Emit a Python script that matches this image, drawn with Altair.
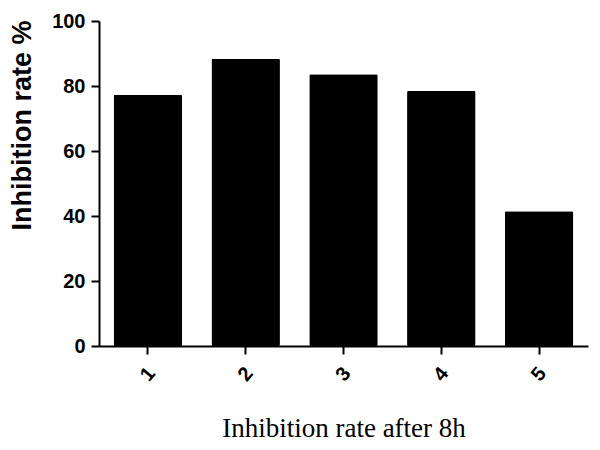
import altair as alt
import pandas as pd

groups = ["1", "2", "3", "4", "5"]
rates = [77.3, 88.4, 83.6, 78.5, 41.5]

df = pd.DataFrame({"group": groups, "rate": rates})

chart = alt.Chart(df).mark_bar(color="black", cornerRadius=1.5).encode(
    x=alt.X(
        "group:N",
        sort=groups,
        scale=alt.Scale(paddingInner=0.3, paddingOuter=0.15),
        axis=alt.Axis(
            title="Inhibition rate after 8h",
            titleFont="Liberation Serif",
            titleFontWeight="normal",
            titleFontSize=27,
            titleColor="black",
            titleBaseline="middle",
            titleY=82,
            labelAngle=-50,
            labelAlign="center",
            labelBaseline="middle",
            labelPadding=20,
            labelFont="Liberation Sans",
            labelFontWeight="bold",
            labelFontSize=20,
            labelColor="black",
            domainColor="black",
            domainWidth=2,
            tickColor="black",
            tickWidth=2,
            tickSize=8,
        ),
    ),
    y=alt.Y(
        "rate:Q",
        scale=alt.Scale(domain=[0, 100], nice=False),
        axis=alt.Axis(
            title="Inhibition rate %",
            values=[0, 20, 40, 60, 80, 100],
            grid=False,
            titleFont="Liberation Sans",
            titleFontWeight="bold",
            titleFontSize=27,
            titleColor="black",
            titleAngle=-90,
            titleAlign="center",
            titleBaseline="middle",
            titleX=-77,
            titleY=104,
            labelFont="Liberation Sans",
            labelFontWeight="bold",
            labelFontSize=20,
            labelColor="black",
            labelPadding=6,
            domainColor="black",
            domainWidth=2,
            tickColor="black",
            tickWidth=2,
            tickSize=8,
        ),
    ),
).properties(
    width=489,
    height=325,
    autosize=alt.AutoSizeParams(type="none"),
    padding={"left": 91, "top": 13, "right": 4, "bottom": 96},
).configure_view(stroke=None)

chart.save("out.html", embed_options={"renderer": "svg", "actions": False})
